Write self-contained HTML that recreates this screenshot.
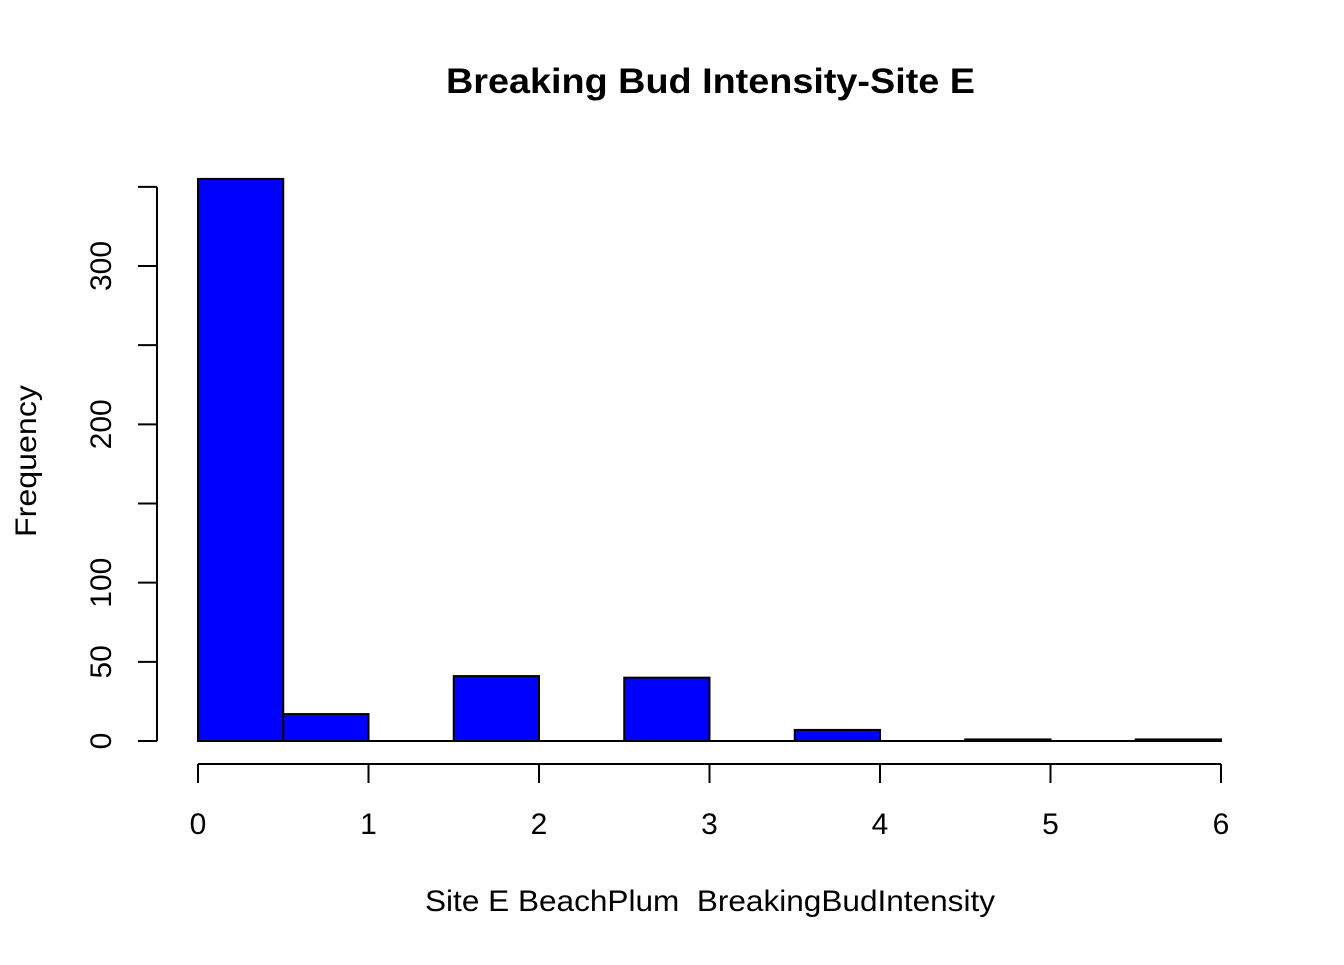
<!DOCTYPE html>
<html><head><meta charset="utf-8"><style>
body{margin:0;background:#fff}
text{font-family:"Liberation Sans",Arial,sans-serif;white-space:pre}
</style></head><body>
<svg id="chart" width="1344" height="960" xmlns="http://www.w3.org/2000/svg">
<text x="446" y="93" textLength="529" lengthAdjust="spacingAndGlyphs" font-size="35" font-weight="bold">Breaking Bud Intensity-Site E</text>
<text x="425" y="911" textLength="570" lengthAdjust="spacingAndGlyphs" font-size="30" xml:space="preserve">Site E BeachPlum  BreakingBudIntensity</text>
<text transform="translate(36,537) rotate(-90)" textLength="152" lengthAdjust="spacingAndGlyphs" font-size="30">Frequency</text>
<g id="bars"></g><g id="xaxis"></g><g id="yaxis"></g>
</svg>
<script>
const binStarts=[0,0.5,1,1.5,2,2.5,3,3.5,4,4.5,5,5.5];
const counts=[355,17,0,41,0,40,0,7,0,1,0,1];
const binWidth=0.5;
const xTicks=[0,1,2,3,4,5,6];
const yTicks=[0,50,100,150,200,250,300,350];
const yLabels=[0,50,100,200,300];
const NS="http://www.w3.org/2000/svg";
const sx=v=>198+v*(1221-198)/6;
const sy=v=>741-v*(741-266)/300;
function mk(tag,attrs,parent,txt){const e=document.createElementNS(NS,tag);for(const k in attrs)e.setAttribute(k,attrs[k]);if(txt!==undefined)e.textContent=txt;parent.appendChild(e);return e;}
const bars=document.getElementById('bars');
binStarts.forEach((b,i)=>{
 const y=sy(counts[i]);
 const x1=sx(b),x2=sx(b+binWidth);
 if(sy(0)-y<1.5){
  const l=mk('line',{x1:x1,x2:x2,y1:y,y2:y,stroke:'#000','stroke-width':2},bars);
  
  
 } else {
  const r=mk('rect',{x:x1,y:y,width:x2-x1,height:sy(0)-y,fill:'#0000ff',stroke:'#000','stroke-width':2},bars);
  
  
 }
});
const xa=document.getElementById('xaxis');
const xl=mk('line',{x1:sx(xTicks[0]),x2:sx(xTicks[xTicks.length-1]),y1:764,y2:764,stroke:'#000','stroke-width':2},xa);


xTicks.forEach(t=>{
 mk('line',{x1:sx(t),x2:sx(t),y1:764,y2:783,stroke:'#000','stroke-width':2},xa);
 const tx=mk('text',{x:sx(t),y:834,'text-anchor':'middle','font-size':30},xa,String(t));
 
 
});
const ya=document.getElementById('yaxis');
const yl=mk('line',{x1:157,x2:157,y1:sy(yTicks[0]),y2:sy(yTicks[yTicks.length-1]),stroke:'#000','stroke-width':2},ya);


yTicks.forEach(t=>{
 mk('line',{x1:138,x2:157,y1:sy(t),y2:sy(t),stroke:'#000','stroke-width':2},ya);
});
yLabels.forEach(t=>{
 const tx=mk('text',{transform:`translate(111,${sy(t)}) rotate(-90)`,'text-anchor':'middle','font-size':30},ya,String(t));
 
 
});
</script>
</body></html>
